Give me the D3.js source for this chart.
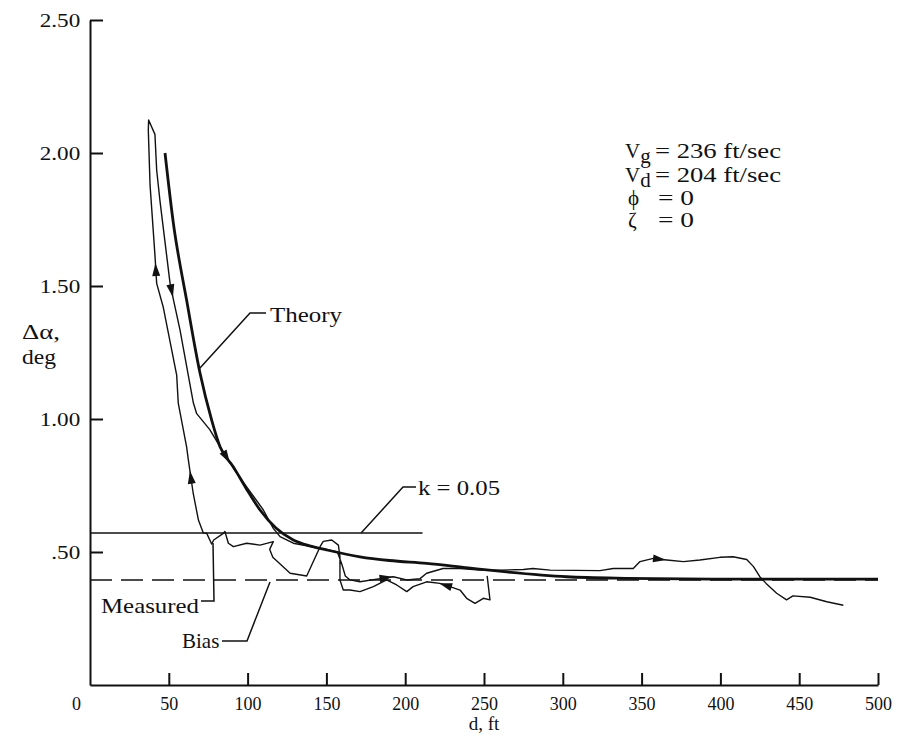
<!DOCTYPE html>
<html>
<head>
<meta charset="utf-8">
<script src="https://cdn.jsdelivr.net/npm/d3@7"></script>
<style>
  body { margin: 0; background: #fff; }
  svg text { font-family: "Liberation Serif", "Times New Roman", serif; fill: #111; }
</style>
</head>
<body>
<svg id="chart" width="899" height="743"></svg>
<script>
// Δα vs distance, measured trace against theory
const xTickValues = [0, 50, 100, 150, 200, 250, 300, 350, 400, 450, 500];
const yTickValues = [0.5, 1.0, 1.5, 2.0, 2.5];
const yTickLabels = [".50", "1.00", "1.50", "2.00", "2.50"];

// theory curve (d ft, Δα deg)
const theoryD  = [47.6, 52.9, 61.3, 69.8, 77.2, 82.5, 91, 99, 107.9, 118, 129, 140, 150, 171.3, 190, 213.6, 240, 264.4, 302.5, 340, 395, 500];
const theoryDa = [2.0, 1.736, 1.447, 1.173, 0.996, 0.896, 0.82, 0.74, 0.658, 0.59, 0.545, 0.522, 0.508, 0.482, 0.468, 0.457, 0.44, 0.425, 0.407, 0.401, 0.398, 0.398];

// measured trace in time order
const measuredD = [252, 253.8, 249.6, 244.3, 239, 234.8, 228.4, 222, 213.6, 205, 201, 194.6, 188.2, 179.8, 171.3, 165, 160.7, 158.6, 158.6, 157.6, 153.4, 148, 146, 137.5, 127, 116, 114, 116.3, 107.9, 99.4, 91, 87.8, 85.6, 84.6, 78.5, 77.2, 74, 71.9, 68.8, 65.5, 62.4, 61.3, 56, 55, 46.5, 42.3, 41.2, 38.1, 37, 37.2, 41.2, 42.3, 44.4, 50.8, 52.9, 57.1, 65.6, 67.7, 76, 82.5, 91, 99.4, 110, 116.3, 120.6, 129, 140, 150, 157, 160, 162, 165, 171.3, 184, 192.4, 201, 209.4, 213.6, 224, 234.8, 247.5, 260, 275, 281, 292, 323.6, 332, 344.7, 349, 357.4, 366, 376.5, 387, 399.7, 408, 416.7, 421, 425, 429, 435.7, 442, 446, 457, 467.5, 478];
const measuredDa = [0.41, 0.32, 0.326, 0.307, 0.326, 0.357, 0.37, 0.382, 0.388, 0.37, 0.351, 0.376, 0.395, 0.37, 0.351, 0.357, 0.357, 0.395, 0.482, 0.526, 0.545, 0.54, 0.52, 0.41, 0.42, 0.48, 0.51, 0.539, 0.526, 0.533, 0.52, 0.533, 0.577, 0.57, 0.545, 0.53, 0.571, 0.571, 0.62, 0.72, 0.846, 0.895, 1.06, 1.165, 1.42, 1.51, 1.617, 1.88, 2.086, 2.124, 2.07, 1.936, 1.82, 1.51, 1.45, 1.335, 1.06, 1.02, 0.96, 0.896, 0.814, 0.745, 0.658, 0.589, 0.558, 0.533, 0.52, 0.51, 0.5, 0.45, 0.41, 0.395, 0.388, 0.4, 0.407, 0.395, 0.4, 0.42, 0.438, 0.438, 0.432, 0.432, 0.434, 0.438, 0.432, 0.43, 0.438, 0.438, 0.464, 0.476, 0.47, 0.464, 0.47, 0.48, 0.482, 0.472, 0.445, 0.407, 0.382, 0.345, 0.32, 0.335, 0.33, 0.313, 0.3];

// segments of the measured trace that carry a direction arrow
const arrowSegments = [6, 39, 45, 53, 59, 73, 89];

const biasLevel = 0.395;
const kLevel = 0.571;
const kEndD = 211;

const svg = d3.select("#chart");
const x = d3.scaleLinear().domain([0, 500]).range([90, 878]);
const y = d3.scaleLinear().domain([0, 2.5]).range([685, 20]);

// axes
const xAxis = d3.axisBottom(x)
    .tickValues(xTickValues)
    .tickSize(-12)
    .tickSizeOuter(0)
    .tickPadding(12)
    .tickFormat(d3.format("d"));
const gx = svg.append("g")
    .attr("transform", `translate(0,${y(0)})`)
    .call(xAxis);
gx.selectAll("text").style("font-size", "18px");
gx.selectAll(".tick").filter(d => d === 0).select("text").attr("x", -14);
gx.selectAll(".tick").filter(d => d === 0).select("line").remove();

const yAxis = d3.axisLeft(y)
    .tickValues(yTickValues)
    .tickSize(-13)
    .tickSizeOuter(0)
    .tickPadding(8)
    .tickFormat((d, i) => yTickLabels[i]);
const gy = svg.append("g")
    .attr("transform", `translate(${x(0)},0)`)
    .call(yAxis);
gy.selectAll("text").style("font-size", "19px").attr("transform", "scale(1.22,1)");

svg.selectAll(".domain, .tick line").attr("stroke", "#111").attr("stroke-width", 2);

// text helper, stretched to the width seen in the figure
const label = (px, py, str, w) => {
    const t = svg.append("text").attr("x", px).attr("y", py).style("font-size", "21px").text(str);
    if (w) t.attr("textLength", w).attr("lengthAdjust", "spacingAndGlyphs");
    return t;
};

// axis titles
svg.append("text").attr("x", x(250)).attr("y", 730).attr("text-anchor", "middle")
    .style("font-size", "19px").text("d, ft");
label(22, 339, "Δα,", 38);
label(22, 364, "deg", 34);

// reference lines
svg.append("line")
    .attr("x1", x(0)).attr("x2", x(500))
    .attr("y1", y(biasLevel)).attr("y2", y(biasLevel))
    .attr("stroke", "#111").attr("stroke-width", 1.6)
    .attr("stroke-dasharray", "22,9");
svg.append("line")
    .attr("x1", x(0)).attr("x2", x(kEndD))
    .attr("y1", y(kLevel)).attr("y2", y(kLevel))
    .attr("stroke", "#111").attr("stroke-width", 1.5);

// theory
const theory = theoryD.map((d, i) => [d, theoryDa[i]]);
svg.append("path")
    .datum(theory)
    .attr("fill", "none")
    .attr("stroke", "#111")
    .attr("stroke-width", 2.8)
    .attr("d", d3.line().x(d => x(d[0])).y(d => y(d[1])).curve(d3.curveMonotoneX));

// measured
const measured = measuredD.map((d, i) => [d, measuredDa[i]]);
svg.append("path")
    .datum(measured)
    .attr("fill", "none")
    .attr("stroke", "#111")
    .attr("stroke-width", 1.4)
    .attr("stroke-linejoin", "round")
    .attr("d", d3.line().x(d => x(d[0])).y(d => y(d[1])));

// arrowheads along measured trace
arrowSegments.forEach(i => {
    const a = measured[i], b = measured[i + 1];
    const ax = x(a[0]), ay = y(a[1]), bx = x(b[0]), by = y(b[1]);
    const mx = (ax + bx) / 2, my = (ay + by) / 2;
    const ang = Math.atan2(by - ay, bx - ax) * 180 / Math.PI;
    svg.append("path")
        .attr("d", "M6,0 L-7,-4 L-7,4 Z")
        .attr("fill", "#111")
        .attr("transform", `translate(${mx},${my}) rotate(${ang})`);
});

// annotations
const leader = (pts) => svg.append("path")
    .attr("d", d3.line()(pts))
    .attr("fill", "none").attr("stroke", "#111").attr("stroke-width", 1.5);

leader([[x(69.5), y(1.19)], [250, 313], [266, 313]]);
label(270, 322, "Theory", 72);

leader([[x(172), y(kLevel)], [403, 487], [416, 487]]);
label(418, 495, "k = 0.05", 82);

leader([[201, 601], [214, 601], [213, 543]]);
label(101, 613, "Measured", 98);

leader([[222, 641], [247, 641], [270, y(biasLevel) + 2]]);
label(182, 648, "Bias");

// conditions block
const rows = [
    {sym: "V", sub: "g", val: "= 236 ft/sec", w: 126, yb: 158},
    {sym: "V", sub: "d", val: "= 204 ft/sec", w: 126, yb: 182},
    {sym: "ϕ", sub: "", val: "= 0", w: 36, yb: 205},
    {sym: "ζ", sub: "", val: "= 0", w: 36, yb: 227}
];
rows.forEach(r => {
    const t = label(r.sub ? 625 : 628, r.yb, "");
    t.append("tspan").text(r.sym);
    if (r.sub) t.append("tspan").attr("dy", 5).text(r.sub);
    label(r.sub ? 655 : 658, r.yb, r.val, r.w);
});
</script>
</body>
</html>
